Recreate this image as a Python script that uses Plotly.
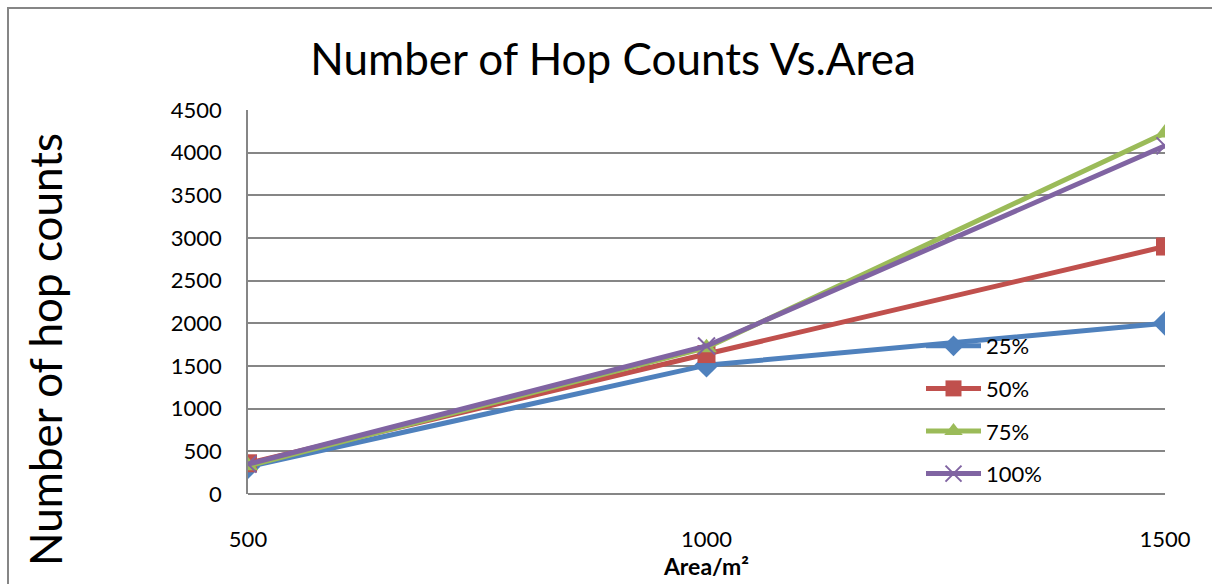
import plotly.graph_objects as go

# Area (m^2) on the x axis
area = [500, 1000, 1500]

# Hop counts for each node-density percentage
hops_25 = [320, 1510, 2000]
hops_50 = [360, 1640, 2900]
hops_75 = [330, 1715, 4230]
hops_100 = [350, 1735, 4080]

series = [
    ("25%", hops_25, "#4F81BD", "diamond", 19),
    ("50%", hops_50, "#C0504D", "square", 18),
    ("75%", hops_75, "#9BBB59", "triangle-up", 18),
    ("100%", hops_100, "#8064A2", "x-thin", 17),
]

y_ticks = list(range(0, 4501, 500))

W, H = 1212, 584
L, R, T, B = 248, 47, 110, 90
pw = W - L - R
ph = H - T - B

fig = go.Figure()
for i, (name, vals, color, sym, size) in enumerate(series):
    marker = dict(symbol=sym, size=size, color=color)
    if sym == "x-thin":
        marker["line"] = dict(color=color, width=2)
    fig.add_trace(go.Scatter(
        x=area, y=vals, name=name, mode="lines+markers",
        line=dict(color=color, width=5),
        marker=marker,
        legendgroup=name,
    ))

fig.update_layout(
    width=W, height=H,
    margin=dict(l=L, r=R, t=T, b=B),
    paper_bgcolor="white", plot_bgcolor="white",
    font=dict(family="Lato, Open Sans, sans-serif", color="black", size=22),
    title=dict(
        text="Number of Hop Counts Vs.Area",
        x=613 / W, xanchor="center", y=1 - 60 / H, yanchor="middle",
        font=dict(size=44, color="black"),
    ),
    showlegend=True,
    legend=dict(
        x=(921 - L) / pw, xanchor="left",
        y=1 - (325 - T) / ph, yanchor="top",
        bgcolor="rgba(0,0,0,0)",
        font=dict(size=22, color="black"),
        tracegroupgap=11,
        itemwidth=55,
    ),
    xaxis=dict(
        range=[500, 1500],
        tickvals=area, ticktext=[str(a) for a in area],
        showgrid=False, zeroline=False,
        showline=False, ticks="",
        ticklabelstandoff=30,
        tickfont=dict(size=22),
        title=dict(text="<b>Area/m²</b>", font=dict(size=23), standoff=2),
    ),
    yaxis=dict(
        range=[0, 4500],
        tickvals=y_ticks,
        showgrid=True, gridcolor="#868686", gridwidth=1.5,
        zeroline=True, zerolinecolor="#868686", zerolinewidth=1.5,
        showline=True, linecolor="#868686", linewidth=1.5,
        ticks="", ticklabelstandoff=20,
        tickfont=dict(size=22),
    ),
    annotations=[dict(
        text="Number of hop counts",
        xref="paper", yref="paper",
        x=(45 - L) / pw, y=1 - (350 - T) / ph,
        xanchor="center", yanchor="middle",
        textangle=-90, showarrow=False,
        font=dict(size=44, color="black"),
    )],
    shapes=[dict(
        type="rect", xref="paper", yref="paper",
        x0=(8 - L) / pw, x1=1.2,
        y0=-0.5, y1=1 - (8 - T) / ph,
        line=dict(color="#868686", width=2),
        fillcolor="rgba(0,0,0,0)", layer="below",
    )],
)

fig.write_html("out.html")
